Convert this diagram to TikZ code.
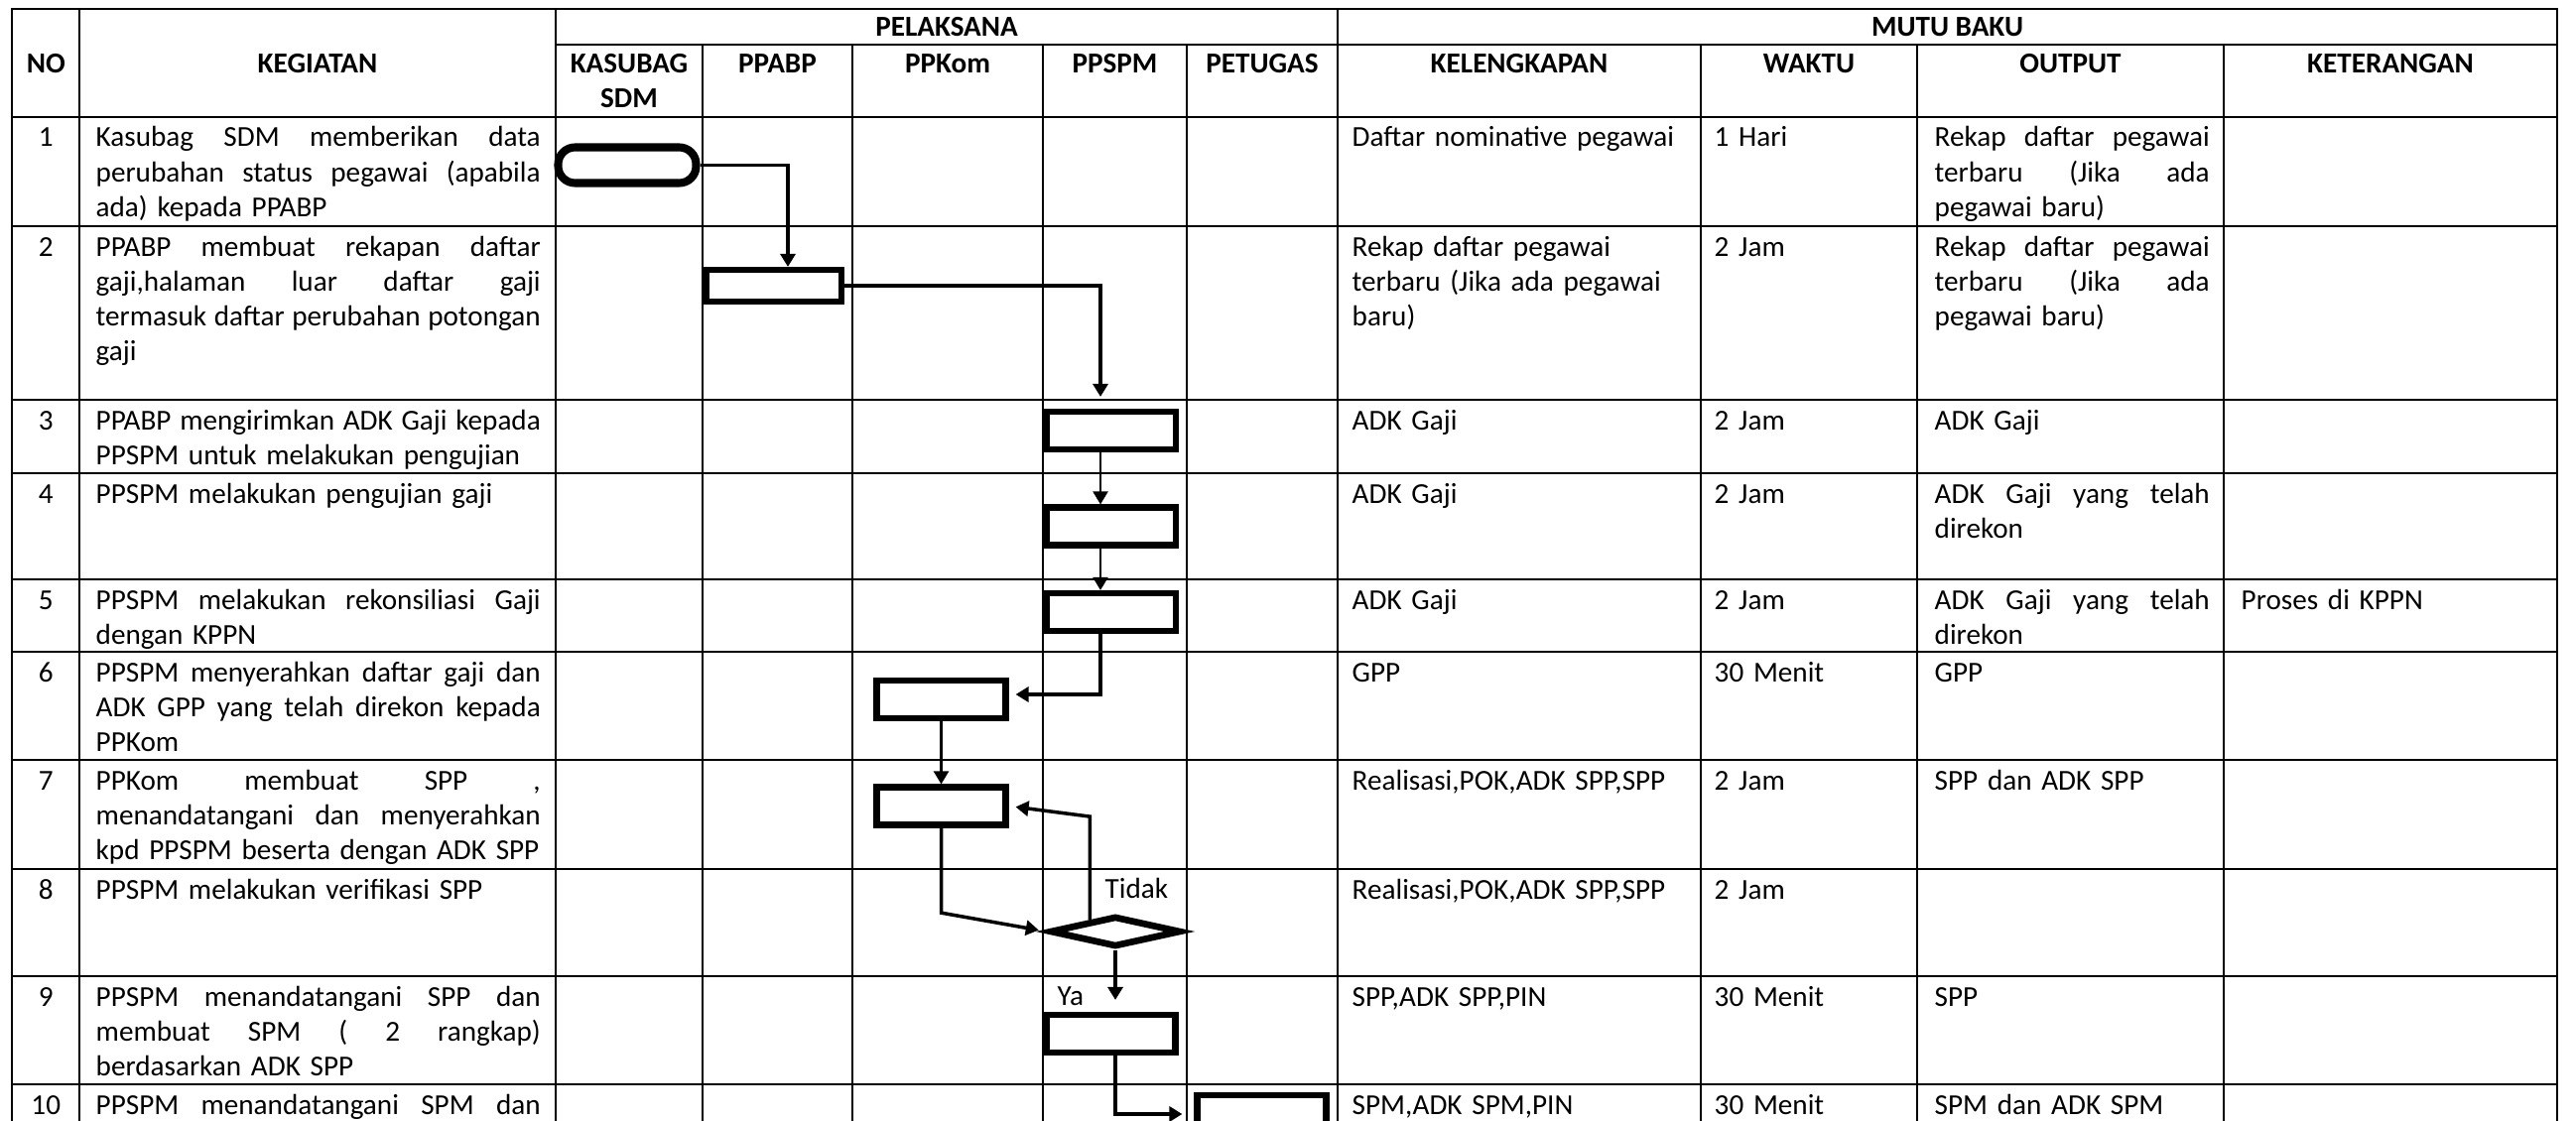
\documentclass[tikz,border=0pt]{standalone}
\usepackage{fontspec}
\setmainfont{Carlito}
\usetikzlibrary{shapes.geometric,arrows.meta}
\definecolor{sopink}{HTML}{000000}
% baris rata kiri-kanan dengan lebar kolom
\newcommand{\jl}[2][4.48cm]{{\spaceskip=0.226em plus 1fil\makebox[#1][s]{#2}}}
\tikzset{
  sop grid/.style={draw=sopink, line width=0.7pt},
  sop step/.style={draw=sopink, line width=1.75pt, minimum width=1.30cm,
    minimum height=0.38cm, inner sep=0pt},
  sop start/.style={draw=sopink, line width=2.3pt, rounded corners=0.17cm,
    minimum width=1.39cm, minimum height=0.36cm, inner sep=0pt},
  sop check/.style={diamond, draw=sopink, line width=1.9pt,
    minimum width=1.32cm, minimum height=0.31cm, inner sep=0pt},
  sop flow/.style={draw=sopink, line width=1pt,
    -{Triangle[length=0.13cm, width=0.15cm]}},
  sop thin flow/.style={sop flow, line width=0.65pt},
  head label/.style={font=\fontsize{8.3}{10}\selectfont\bfseries, inner sep=0pt,
    anchor=base},
  num label/.style={inner sep=0pt, anchor=base},
  cell text/.style={inner sep=0pt, anchor=base west, align=left},
  keg text/.style={cell text, text width=4.48cm},
  kel text/.style={cell text, text width=3.40cm},
  wkt text/.style={cell text, text width=1.90cm},
  out text/.style={cell text, text width=2.77cm},
  ket text/.style={cell text, text width=3.00cm},
}

\begin{document}
\begin{tikzpicture}[x=1cm, y=1cm, font=\fontsize{8.3}{10}\selectfont]
  \useasboundingbox (0,0) rectangle (25.96,-11.29);
  \clip (0,0) rectangle (25.96,-11.29);

  % table grid
  \draw[sop grid] (0.12,-0.09) rectangle (25.77,-11.60);
  \draw[sop grid] (5.60,-0.45) -- (25.77,-0.45);
  \foreach \y in {-1.18,-2.28,-4.03,-4.77,-5.84,-6.57,-7.66,-8.76,-9.84,-10.93}
    \draw[sop grid] (0.12,\y) -- (25.77,\y);
  \foreach \x in {0.80,5.60,13.48}
    \draw[sop grid] (\x,-0.09) -- (\x,-11.60);
  \foreach \x in {7.08,8.59,10.51,11.96,17.14,19.32,22.41}
    \draw[sop grid] (\x,-0.45) -- (\x,-11.60);

  % header
  \node[head label] (hno) at (0.4625,-0.735) {NO};
  \node[head label] (hkeg) at (3.20,-0.735) {KEGIATAN};
  \node[head label] (hpel) at (9.54,-0.37) {PELAKSANA};
  \node[head label] (hmutu) at (19.625,-0.37) {MUTU BAKU};
  \node[head label, text width=1.4cm, align=center] (hkas) at (6.34,-0.735)
    {KASUBAG\\SDM};
  \node[head label] (hppabp) at (7.835,-0.735) {PPABP};
  \node[head label] (hppkom) at (9.55,-0.735) {PPKom};
  \node[head label] (hppspm) at (11.235,-0.735) {PPSPM};
  \node[head label] (hpet) at (12.72,-0.735) {PETUGAS};
  \node[head label] (hkel) at (15.31,-0.735) {KELENGKAPAN};
  \node[head label] (hwkt) at (18.23,-0.735) {WAKTU};
  \node[head label] (hout) at (20.865,-0.735) {OUTPUT};
  \node[head label] (hket) at (24.09,-0.735) {KETERANGAN};

  % nomor
  \node[num label] (no1) at (0.4625,-1.48) {1};
  \node[num label] (no2) at (0.4625,-2.58) {2};
  \node[num label] (no3) at (0.4625,-4.33) {3};
  \node[num label] (no4) at (0.4625,-5.07) {4};
  \node[num label] (no5) at (0.4625,-6.14) {5};
  \node[num label] (no6) at (0.4625,-6.87) {6};
  \node[num label] (no7) at (0.4625,-7.96) {7};
  \node[num label] (no8) at (0.4625,-9.06) {8};
  \node[num label] (no9) at (0.4625,-10.14) {9};
  \node[num label] (no10) at (0.4625,-11.23) {10};

  % kegiatan
  \node[keg text] (keg1) at (0.96,-1.48)
    {\jl{Kasubag SDM memberikan data}\\ \jl{perubahan status pegawai (apabila}\\ ada) kepada PPABP};
  \node[keg text] (keg2) at (0.96,-2.58)
    {\jl{PPABP membuat rekapan daftar}\\ \jl{gaji,halaman luar daftar gaji}\\
     \jl{termasuk daftar perubahan potongan}\\ gaji};
  \node[keg text] (keg3) at (0.96,-4.33)
    {\jl{PPABP mengirimkan ADK Gaji kepada}\\ PPSPM untuk melakukan pengujian};
  \node[keg text] (keg4) at (0.96,-5.07) {PPSPM melakukan pengujian gaji};
  \node[keg text] (keg5) at (0.96,-6.14)
    {\jl{PPSPM melakukan rekonsiliasi Gaji}\\ dengan KPPN};
  \node[keg text] (keg6) at (0.96,-6.87)
    {\jl{PPSPM menyerahkan daftar gaji dan}\\ \jl{ADK GPP yang telah direkon kepada}\\ PPKom};
  \node[keg text] (keg7) at (0.96,-7.96)
    {\jl{PPKom membuat SPP ,}\\ \jl{menandatangani dan menyerahkan}\\
     kpd PPSPM beserta dengan ADK SPP};
  \node[keg text] (keg8) at (0.96,-9.06) {PPSPM melakukan verifikasi SPP};
  \node[keg text] (keg9) at (0.96,-10.14)
    {\jl{PPSPM menandatangani SPP dan}\\ \jl{membuat SPM ( 2 rangkap)}\\ berdasarkan ADK SPP};
  \node[keg text] (keg10) at (0.96,-11.23) {\jl{PPSPM menandatangani SPM dan}};

  % kelengkapan
  \node[kel text] (kel1) at (13.62,-1.48) {Daftar nominative pegawai};
  \node[kel text] (kel2) at (13.62,-2.58)
    {Rekap daftar pegawai\\ terbaru (Jika ada pegawai\\ baru)};
  \node[kel text] (kel3) at (13.62,-4.33) {ADK Gaji};
  \node[kel text] (kel4) at (13.62,-5.07) {ADK Gaji};
  \node[kel text] (kel5) at (13.62,-6.14) {ADK Gaji};
  \node[kel text] (kel6) at (13.62,-6.87) {GPP};
  \node[kel text] (kel7) at (13.62,-7.96) {Realisasi,POK,ADK SPP,SPP};
  \node[kel text] (kel8) at (13.62,-9.06) {Realisasi,POK,ADK SPP,SPP};
  \node[kel text] (kel9) at (13.62,-10.14) {SPP,ADK SPP,PIN};
  \node[kel text] (kel10) at (13.62,-11.23) {SPM,ADK SPM,PIN};

  % waktu
  \node[wkt text] (wkt1) at (17.27,-1.48) {1 Hari};
  \node[wkt text] (wkt2) at (17.27,-2.58) {2 Jam};
  \node[wkt text] (wkt3) at (17.27,-4.33) {2 Jam};
  \node[wkt text] (wkt4) at (17.27,-5.07) {2 Jam};
  \node[wkt text] (wkt5) at (17.27,-6.14) {2 Jam};
  \node[wkt text] (wkt6) at (17.27,-6.87) {30 Menit};
  \node[wkt text] (wkt7) at (17.27,-7.96) {2 Jam};
  \node[wkt text] (wkt8) at (17.27,-9.06) {2 Jam};
  \node[wkt text] (wkt9) at (17.27,-10.14) {30 Menit};
  \node[wkt text] (wkt10) at (17.27,-11.23) {30 Menit};

  % output
  \node[out text] (out1) at (19.49,-1.48)
    {\jl[2.77cm]{Rekap daftar pegawai}\\ \jl[2.77cm]{terbaru (Jika ada}\\ pegawai baru)};
  \node[out text] (out2) at (19.49,-2.58)
    {\jl[2.77cm]{Rekap daftar pegawai}\\ \jl[2.77cm]{terbaru (Jika ada}\\ pegawai baru)};
  \node[out text] (out3) at (19.49,-4.33) {ADK Gaji};
  \node[out text] (out4) at (19.49,-5.07) {\jl[2.77cm]{ADK Gaji yang telah}\\ direkon};
  \node[out text] (out5) at (19.49,-6.14) {\jl[2.77cm]{ADK Gaji yang telah}\\ direkon};
  \node[out text] (out6) at (19.49,-6.87) {GPP};
  \node[out text] (out7) at (19.49,-7.96) {SPP dan ADK SPP};
  \node[out text] (out9) at (19.49,-10.14) {SPP};
  \node[out text] (out10) at (19.49,-11.23) {SPM dan ADK SPM};

  % keterangan
  \node[ket text] (ket5) at (22.58,-6.14) {Proses di KPPN};

  % alur
  \node[sop start] (mulai) at (6.32,-1.665) {};
  \node[sop step, minimum width=1.36cm, minimum height=0.32cm] (rekap) at (7.80,-2.88) {};
  \node[sop step] (kirim) at (11.20,-4.34) {};
  \node[sop step] (uji) at (11.20,-5.305) {};
  \node[sop step] (rekon) at (11.20,-6.17) {};
  \node[sop step] (serah) at (9.485,-7.05) {};
  \node[sop step] (buatspp) at (9.485,-8.125) {};
  \node[sop check] (verif) at (11.24,-9.39) {};
  \node[sop step] (buatspm) at (11.195,-10.42) {};
  \node[sop step] (ttdspm) at (12.715,-11.23) {};

  \draw[sop flow] (mulai.east) -| ([xshift=0.14cm]rekap.north);
  \draw[sop flow, shorten >=0.12cm] (rekap.east) -| ([xshift=-0.11cm]kirim.north);
  \draw[sop thin flow] ([xshift=-0.11cm]kirim.south) -- ([xshift=-0.11cm]uji.north);
  \draw[sop thin flow] ([xshift=-0.11cm]uji.south) -- ([xshift=-0.11cm]rekon.north);
  \draw[sop flow, shorten >=0.07cm] ([xshift=-0.11cm]rekon.south)
    |- ([yshift=0.05cm]serah.east);
  \draw[sop thin flow] (serah.south) -- (buatspp.north);
  \draw[sop flow, shorten >=0.08cm] (buatspp.south) -- (buatspp.south |- verif.north)
    -- (verif.west);
  \draw[sop flow, shorten >=0.07cm] (verif.155) -- ++(0,1.04) -- (buatspp.east);
  \draw[sop flow, shorten >=0.12cm] (verif.south) -- (verif.south |- buatspm.north);
  \draw[sop flow, shorten >=0.12cm] ([xshift=0.045cm]buatspm.south) |- (ttdspm.west);

  \node[cell text] (tidak) at (11.13,-9.05) {Tidak};
  \node[cell text] (ya) at (10.65,-10.13) {Ya};
\end{tikzpicture}
\end{document}
